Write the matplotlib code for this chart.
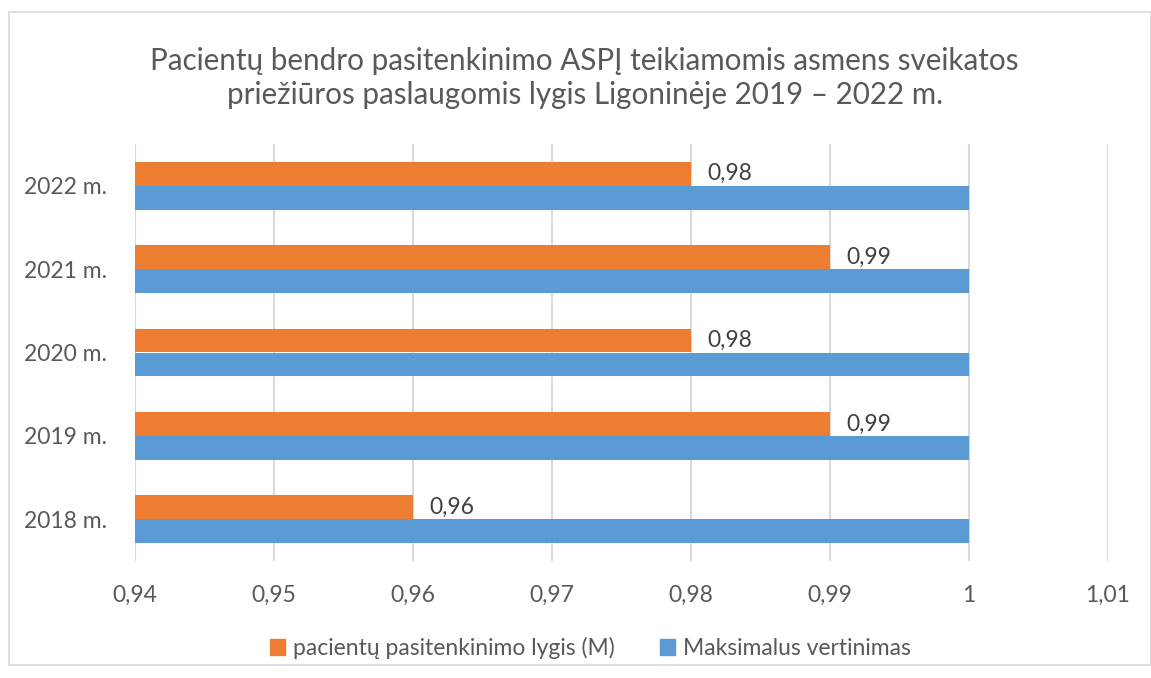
import matplotlib.pyplot as plt
import matplotlib.patches as mpatches
import numpy as np

years = ['2018 m.', '2019 m.', '2020 m.', '2021 m.', '2022 m.']
satisfaction = [0.96, 0.99, 0.98, 0.99, 0.98]
max_score = [1, 1, 1, 1, 1]
xticks = [0.94, 0.95, 0.96, 0.97, 0.98, 0.99, 1.00, 1.01]

plt.rcParams['font.family'] = ['Lato', 'DejaVu Sans']
txt = '#595959'
orange = '#ED7D31'
blue = '#5B9BD5'

fig = plt.figure(figsize=(11.51, 6.78), dpi=100)
ax = fig.add_axes([135 / 1151, 1 - 561 / 678, (1108 - 135) / 1151, (561 - 144) / 678])

ind = np.arange(len(years))
h = 0.287
ax.barh(ind + h / 2, satisfaction, h, left=0, color=orange, zorder=3)
ax.barh(ind - h / 2, max_score, h, left=0, color=blue, zorder=3)

for i, v in enumerate(satisfaction):
    ax.text(v + 0.00115, i + h / 2, ('%.2f' % v).replace('.', ','), va='center',
            ha='left', fontsize=16.5, color='#404040', zorder=4)

ax.set_xlim(0.94, 1.01)
ax.set_ylim(-0.5, len(years) - 0.5)
ax.set_xticks(xticks)
ax.set_xticklabels([('%.2f' % t).rstrip('0').rstrip('.').replace('.', ',') for t in xticks])
ax.set_yticks(ind)
ax.set_yticklabels(years)
ax.tick_params(length=0, labelsize=16.5, colors=txt)
ax.tick_params(axis='x', pad=17)
ax.tick_params(axis='y', pad=20)
ax.grid(axis='x', color='#d9d9d9', linewidth=1.5, zorder=0)
for s in ax.spines.values():
    s.set_visible(False)

fig.text(0.508, 0.885, 'Pacientų bendro pasitenkinimo ASPĮ teikiamomis asmens sveikatos\n'
         'priežiūros paslaugomis lygis Ligoninėje 2019 – 2022 m.',
         ha='center', va='center', fontsize=21.3, color=txt, linespacing=1.25)

handles = [mpatches.Patch(color=orange, label='pacientų pasitenkinimo lygis (M)'),
           mpatches.Patch(color=blue, label='Maksimalus vertinimas')]
leg = fig.legend(handles=handles, loc='center', bbox_to_anchor=(0.513, 1 - 648 / 678),
                 ncol=2, frameon=False, fontsize=16.5, handlelength=0.65, handleheight=0.65,
                 handletextpad=0.35, columnspacing=1.95)
for t in leg.get_texts():
    t.set_color(txt)

fig.patches.append(mpatches.Rectangle((9 / 1151, 1 - 665 / 678), 1 - 9 / 1151, (665 - 12) / 678,
                                      transform=fig.transFigure, fill=False,
                                      edgecolor='#d9d9d9', linewidth=1.2))

plt.savefig('out.png', dpi=100)
